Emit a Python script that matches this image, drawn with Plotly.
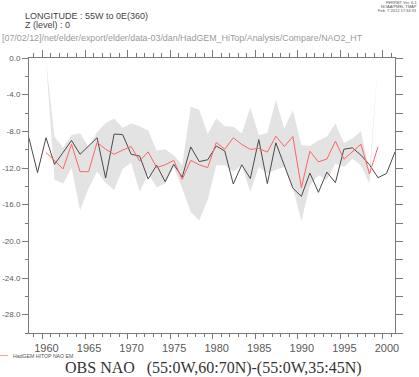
import plotly.graph_objects as go

# ---------------- data ----------------
obs_years = list(range(1958, 2002))
obs_nao = [-8.75, -12.5, -8.7, -11.6, -10.3, -9.0, -10.5, -9.6, -8.7, -13.1,
           -8.3, -8.35, -10.5, -10.7, -13.2, -11.7, -13.5, -11.6, -13.0, -9.7,
           -11.3, -11.1, -9.6, -10.15, -13.75, -11.65, -13.15, -8.9, -13.7, -9.25,
           -11.7, -14.2, -15.1, -12.55, -14.65, -12.45, -13.6, -9.95, -9.8, -10.6,
           -11.65, -13.05, -12.6, -10.24]

model_years = list(range(1960, 2000))
model_em = [-10.3, -11.2, -12.1, -9.4, -12.4, -12.4, -9.2, -9.95, -10.5, -10.05,
            -9.65, -11.25, -10.24, -11.95, -11.65, -11.17, -13.25, -11.17, -11.65, -11.95,
            -9.22, -9.95, -8.7, -9.44, -9.97, -9.87, -10.27, -8.53, -9.65, -8.57,
            -14.15, -10.17, -11.33, -11.02, -9.08, -11.04, -10.2, -9.4, -12.65, -9.69]
model_upper = [-0.3, -8.6, -9.8, -8.4, -8.2, -9.7, -8.1, -7.1, -6.6, -7.6,
               -7.15, -7.45, -7.9, -10.1, -9.95, -10.6, -11.7, -5.33, -5.65, -8.3,
               -6.6, -7.45, -7.5, -8.24, -5.4, -8.42, -8.17, -4.6, -7.69, -5.69,
               -9.5, -9.6, -9.0, -8.6, -7.15, -9.3, -8.78, -8.0, -12.4, -0.5]
model_lower = [-0.3, -13.3, -13.7, -12.0, -16.6, -14.2, -12.4, -13.6, -14.4, -12.1,
               -11.4, -14.6, -12.6, -14.1, -13.7, -11.9, -14.2, -16.8, -17.7, -15.5,
               -11.7, -11.7, -12.4, -11.7, -14.6, -11.9, -12.6, -12.2, -11.9, -14.1,
               -17.8, -13.9, -12.8, -13.3, -11.5, -11.9, -11.0, -11.7, -13.7, -0.5]

y_tick_vals = [0, -4, -8, -12, -16, -20, -24, -28]
y_tick_text = ["0.0", "-4.0", "-8.0", "-12.0", "-16.0", "-20.0", "-24.0", "-28.0"]

# winter values sit a little into each year on the time axis
TIME_OFFSET = 0.42
x_range = [1958 + TIME_OFFSET, 2001 + TIME_OFFSET]
y_range = [-30, 0]

obs_x = [y + TIME_OFFSET for y in obs_years]
mod_x = [y + TIME_OFFSET for y in model_years]

# ---------------- layout geometry ----------------
W, H = 419, 377
ML, MR, MT, MB = 29, 24, 58, 44
PW, PH = W - ML - MR, H - MT - MB


def px(X):
    return (X - ML) / PW


def py(Y):
    return 1 - (Y - MT) / PH


AX = "#7a7a7a"
TXT = "#5a5a5a"
FONT = "Liberation Sans, Arial, sans-serif"

fig = go.Figure()

fig.add_trace(go.Scatter(x=mod_x, y=model_upper, mode="lines",
                         line=dict(width=0, color="rgba(0,0,0,0)"),
                         hoverinfo="skip", showlegend=False))
fig.add_trace(go.Scatter(x=mod_x, y=model_lower, mode="lines", fill="tonexty",
                         fillcolor="#e3e3e3",
                         line=dict(width=0, color="rgba(0,0,0,0)"),
                         hoverinfo="skip", showlegend=False))
fig.add_trace(go.Scatter(x=obs_x, y=obs_nao, mode="lines",
                         line=dict(color="#4a4a4a", width=1),
                         name="OBS NAO", showlegend=False))
fig.add_trace(go.Scatter(x=mod_x, y=model_em, mode="lines",
                         line=dict(color="#ff6464", width=1),
                         name="HadGEM HITOP NAO EM", showlegend=False))
# dummy trace so the mirrored (top / right) axes are drawn
fig.add_trace(go.Scatter(x=[None], y=[None], xaxis="x2", yaxis="y2",
                         showlegend=False, hoverinfo="skip"))

tick_common = dict(ticks="outside", tickcolor=AX, tickwidth=1)

fig.update_layout(
    width=W, height=H,
    margin=dict(l=ML, r=MR, t=MT, b=MB, pad=0, autoexpand=False),
    paper_bgcolor="white", plot_bgcolor="white",
    showlegend=False,
    font=dict(family=FONT, color=TXT),
    xaxis=dict(range=x_range, showgrid=False, zeroline=False, automargin=False,
               showline=True, linecolor=AX, linewidth=1,
               tickmode="linear", tick0=1960, dtick=5, ticklen=5,
               minor=dict(tickmode="linear", tick0=1960, dtick=1, ticklen=3,
                          **tick_common),
               tickfont=dict(size=11, color=TXT, family=FONT),
               ticklabelshift=4, **tick_common),
    xaxis2=dict(range=x_range, overlaying="x", side="top", showgrid=False,
                zeroline=False, automargin=False,
                showline=True, linecolor=AX, linewidth=1,
                tickmode="linear", tick0=1960, dtick=5, ticklen=7,
                minor=dict(tickmode="linear", tick0=1960, dtick=1, ticklen=4,
                           **tick_common),
                showticklabels=False, **tick_common),
    yaxis=dict(range=y_range, showgrid=False, zeroline=False, automargin=False,
               showline=True, linecolor=AX, linewidth=1,
               tickmode="array", tickvals=y_tick_vals, ticktext=y_tick_text,
               ticklen=6,
               minor=dict(tickmode="linear", tick0=0, dtick=2, ticklen=3,
                          **tick_common),
               tickfont=dict(size=8, color=TXT, family=FONT), **tick_common),
    yaxis2=dict(range=y_range, overlaying="y", side="right", showgrid=False,
                zeroline=False, automargin=False,
                showline=True, linecolor=AX, linewidth=1,
                tickmode="linear", tick0=0, dtick=2, ticklen=7,
                showticklabels=False, **tick_common),
)

ann = []


def text(s, X, Y, size, color="#333333", xanchor="left", family=FONT):
    ann.append(dict(text=s, x=px(X), y=py(Y), xref="paper", yref="paper",
                    xanchor=xanchor, yanchor="middle", showarrow=False,
                    borderpad=0, font=dict(size=size, color=color, family=family)))


text("LONGITUDE : 55W to 0E(360)", 24, 15.5, 9, "#444444")
text("Z (level) : 0", 24, 25, 9, "#444444")
text("[07/02/12]/net/elder/export/elder/data-03/dan/HadGEM_HiTop/Analysis/Compare/NAO2_HT",
     1, 37.5, 8.9, "#9a9a9a")
text("FERRET Ver. 6.1", 418, 2.8, 4, "#555555", xanchor="right")
text("NOAA/PMEL TMAP", 418, 6.8, 4, "#555555", xanchor="right")
text("Feb  7 2012 17:34:33", 418, 10.8, 4, "#555555", xanchor="right")
text("HadGEM HITOP NAO EM", 12, 355.5, 5.2, "#555555")
text("OBS NAO   (55:0W,60:70N)-(55:0W,35:45N)", 213, 367.5, 16, "#333333",
     xanchor="center", family="Liberation Serif, Times New Roman, serif")

fig.update_layout(annotations=ann)
fig.add_shape(type="line", xref="paper", yref="paper",
              x0=px(0), x1=px(8), y0=py(355.5), y1=py(355.5),
              line=dict(color="#ffa0a0", width=1))

fig.write_html("out.html",
               config={"displayModeBar": False},
               post_script="document.body.style.margin='0';"
                           "document.body.style.overflow='hidden';")
